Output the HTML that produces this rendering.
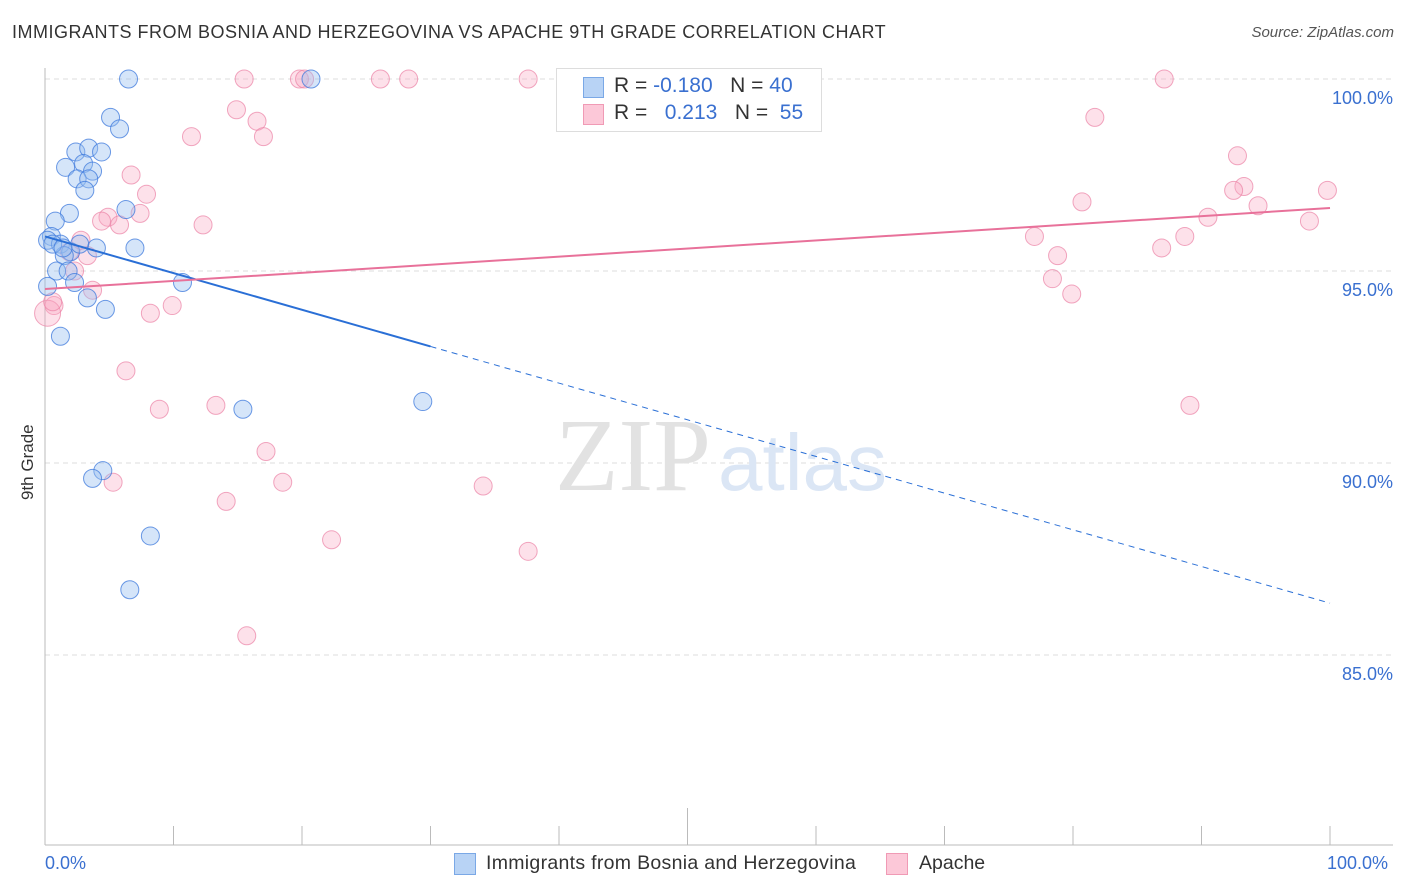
<!DOCTYPE html>
<html><head><meta charset="utf-8"><style>
body{margin:0;background:#fff;font-family:"Liberation Sans",sans-serif;}
#wrap{position:relative;width:1406px;height:892px;overflow:hidden;}
.t{position:absolute;white-space:nowrap;}
</style></head><body>
<div id="wrap">
<div class="t" style="left:12px;top:22px;font-size:18px;letter-spacing:0.5px;color:#333;">IMMIGRANTS FROM BOSNIA AND HERZEGOVINA VS APACHE 9TH GRADE CORRELATION CHART</div>
<div class="t" style="right:12px;top:24px;font-size:15px;color:#555;font-style:italic;">Source: ZipAtlas.com</div>
<div class="t" style="left:18px;font-size:17px;color:#333;transform:rotate(-90deg);transform-origin:left top;top:500px;">9th Grade</div>
<svg id="svg" width="1406" height="892" style="position:absolute;left:0;top:0"></svg>
<div style="position:absolute;left:556px;top:68px;width:264px;height:62px;border:1px solid #ddd;background:#fff;font-size:21px;">
 <div style="position:absolute;left:26px;top:8px;width:19px;height:19px;background:#b8d3f5;border:1px solid #7aa8e6;"></div>
 <div class="t" style="left:57px;top:5px;color:#333;">R = <span style="color:#3a70d0">-0.180</span>&nbsp;&nbsp;&nbsp;N = <span style="color:#3a70d0">40</span></div>
 <div style="position:absolute;left:26px;top:35px;width:19px;height:19px;background:#fcc8d8;border:1px solid #f09ab5;"></div>
 <div class="t" style="left:57px;top:32px;color:#333;">R = &nbsp;&nbsp;<span style="color:#3a70d0">0.213</span>&nbsp;&nbsp;&nbsp;N = &nbsp;<span style="color:#3a70d0">55</span></div>
</div>
<div style="position:absolute;left:454px;top:853px;width:20px;height:20px;background:#b8d3f5;border:1px solid #7aa8e6;"></div>
<div class="t" style="left:486px;top:852px;font-size:19.5px;letter-spacing:0.3px;color:#333;">Immigrants from Bosnia and Herzegovina</div>
<div style="position:absolute;left:886px;top:853px;width:20px;height:20px;background:#fcc8d8;border:1px solid #f09ab5;"></div>
<div class="t" style="left:919px;top:852px;font-size:19.5px;color:#333;">Apache</div>
<div class="t" style="left:45px;top:853px;font-size:18px;color:#3a70d0;">0.0%</div>
<div class="t" style="left:1327px;top:853px;font-size:18px;color:#3a70d0;">100.0%</div>
</div>
<script>
const blueX=[6.5,20.7,5.1,5.8,2.4,3.4,4.4,1.6,3.0,3.7,2.5,3.4,3.1,6.3,1.9,0.8,0.5,0.2,1.2,2.0,4.0,7.0,1.5,2.7,0.9,1.8,2.3,10.7,0.2,3.3,4.7,1.2,15.4,29.4,4.5,3.7,8.2,6.6,0.6,1.4];
const blueY=[100,100,99.0,98.7,98.1,98.2,98.1,97.7,97.8,97.6,97.4,97.4,97.1,96.6,96.5,96.3,95.9,95.8,95.7,95.5,95.6,95.6,95.4,95.7,95.0,95.0,94.7,94.7,94.6,94.3,94.0,93.3,91.4,91.6,89.8,89.6,88.1,86.7,95.7,95.6];
const pinkX=[15.5,19.8,20.2,26.1,28.3,37.6,87.1,14.9,16.5,11.4,17.0,81.7,6.7,7.9,7.4,4.9,4.4,5.8,12.3,92.8,93.3,92.5,94.4,99.8,90.5,98.4,80.7,88.7,86.9,77.0,78.8,78.4,79.9,2.8,3.3,1.9,2.3,3.7,0.7,0.2,8.2,9.9,6.3,8.9,13.3,89.1,17.2,5.3,18.5,34.1,14.1,22.3,37.6,15.7,0.6];
const pinkY=[100,100,100,100,100,100,100,99.2,98.9,98.5,98.5,99.0,97.5,97.0,96.5,96.4,96.3,96.2,96.2,98.0,97.2,97.1,96.7,97.1,96.4,96.3,96.8,95.9,95.6,95.9,95.4,94.8,94.4,95.8,95.4,95.5,95.0,94.5,94.1,93.9,93.9,94.1,92.4,91.4,91.5,91.5,90.3,89.5,89.5,89.4,89.0,88.0,87.7,85.5,94.2];
const blueTrend=[95.9,86.35];
const pinkTrend=[94.53,96.64];
const yTicks=[100,95,90,85];
const yTickLabels=["100.0%","95.0%","90.0%","85.0%"];
const xTicks=[0,10,20,30,40,50,60,70,80,90,100];

const X=v=>45+v*12.85, Y=v=>79+(100-v)*38.4;
const s=document.getElementById('svg'),NS='http://www.w3.org/2000/svg';
function mk(t,a,n){const e=document.createElementNS(NS,t);for(const k in a)e.setAttribute(k,a[k]);


s.appendChild(e);return e;}
yTicks.forEach((v,i)=>{mk('line',{x1:45,x2:1393,y1:Y(v),y2:Y(v),stroke:'#ddd','stroke-dasharray':'5,4'},'gridline');
const t=mk('text',{x:1393,y:Y(v)+25,'text-anchor':'end','font-size':18,fill:'#3a70d0','font-family':'Liberation Sans'},'y-tick-label');t.textContent=yTickLabels[i];});
mk('line',{x1:45,x2:45,y1:68,y2:845,stroke:'#bbb'},'y-axis-line');
mk('line',{x1:45,x2:1393,y1:845,y2:845,stroke:'#bbb'},'x-axis-line');
xTicks.forEach(v=>mk('line',{x1:X(v),x2:X(v),y1:(v==50?808:826),y2:845,stroke:'#bbb'},'x-tick'));
const w1=mk('text',{x:555,y:490,'font-size':104,fill:'#e2e2e2','font-family':'Liberation Serif'},'watermark-zip');w1.textContent='ZIP';
const w2=mk('text',{x:718,y:490,'font-size':80,fill:'#dbe6f5','font-family':'Liberation Sans'},'watermark-atlas');w2.textContent='atlas';
pinkX.forEach((x,i)=>mk('circle',{cx:X(x),cy:Y(pinkY[i]),r:(i==39?13:9),fill:'rgba(248,170,195,0.35)',stroke:'rgba(235,130,165,0.7)','stroke-width':1},'apache-point'));
blueX.forEach((x,i)=>mk('circle',{cx:X(x),cy:Y(blueY[i]),r:9,fill:'rgba(150,190,240,0.4)',stroke:'rgba(60,120,220,0.75)','stroke-width':1},'bosnia-point'));
const by=x=>blueTrend[0]+(blueTrend[1]-blueTrend[0])*x/100;
mk('line',{x1:X(0),y1:Y(by(0)),x2:X(30),y2:Y(by(30)),stroke:'#2a6fd6','stroke-width':2},'bosnia-trend-line');
mk('line',{x1:X(30),y1:Y(by(30)),x2:X(100),y2:Y(by(100)),stroke:'#2a6fd6','stroke-width':1,'stroke-dasharray':'6,5'},'bosnia-trend-extension');
mk('line',{x1:X(0),y1:Y(pinkTrend[0]),x2:X(100),y2:Y(pinkTrend[1]),stroke:'#e8719a','stroke-width':2},'apache-trend-line');
</script>
</body></html>
